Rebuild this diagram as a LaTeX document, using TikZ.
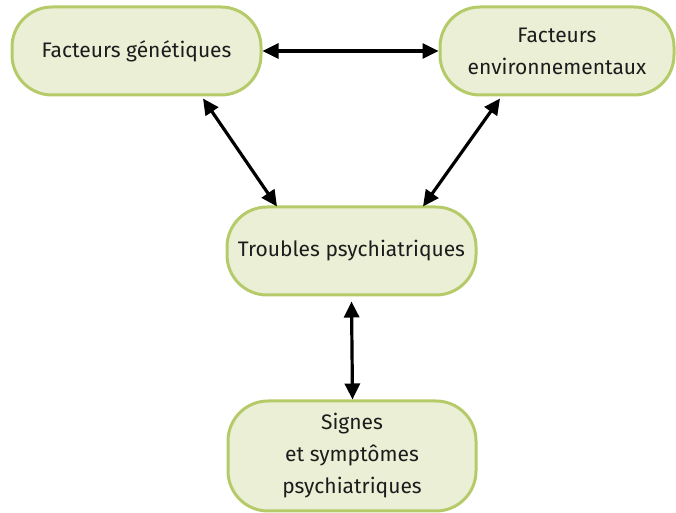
\documentclass[tikz,border=0pt]{standalone}
\usepackage{fontspec}
\setmainfont{Fira Sans}
\usetikzlibrary{arrows.meta}
\definecolor{boxfill}{HTML}{EBEFD6}
\definecolor{boxline}{HTML}{B5CB6A}
\definecolor{txt}{HTML}{1C1C1C}
\begin{document}
\begin{tikzpicture}[x=1pt,y=1pt,
  stage/.style={draw=boxline, fill=boxfill, line width=3pt, rounded corners=40pt,
    minimum width=#1, align=center, text=txt, font=\fontsize{21}{32}\selectfont,
    inner sep=0pt},
  link/.style={line width=3.2pt, {Triangle[length=16pt,width=15pt]}-{Triangle[length=16pt,width=15pt]}}]
  \useasboundingbox (0,0) rectangle (676,513);
  % boxes (centres measured from the top-left corner, y downward)
  \node[stage=249pt, minimum height=88pt] (gen) at (136.5,513-51) {Facteurs génétiques};
  \node[stage=234pt, minimum height=88pt] (env) at (557,513-51) {Facteurs\\environnementaux};
  \node[stage=249pt, minimum height=88pt] (trb) at (351.5,513-251) {Troubles psychiatriques};
  \node[stage=248pt, minimum height=110pt] (sgn) at (352,513-456) {Signes\\et symptômes\\psychiatriques};
  % two-way links
  \draw[link] (gen.east) -- (env.west);
  \draw[link] ([xshift=66.5pt,yshift=-2pt]gen.south) -- ([xshift=-74.5pt,yshift=-1pt]trb.north);
  \draw[link] ([xshift=-57pt,yshift=-2pt]env.south) -- ([xshift=71.5pt,yshift=-1pt]trb.north);
  \draw[link] ([yshift=-5pt]trb.south) -- ([xshift=0.5pt]sgn.north);
\end{tikzpicture}
\end{document}
